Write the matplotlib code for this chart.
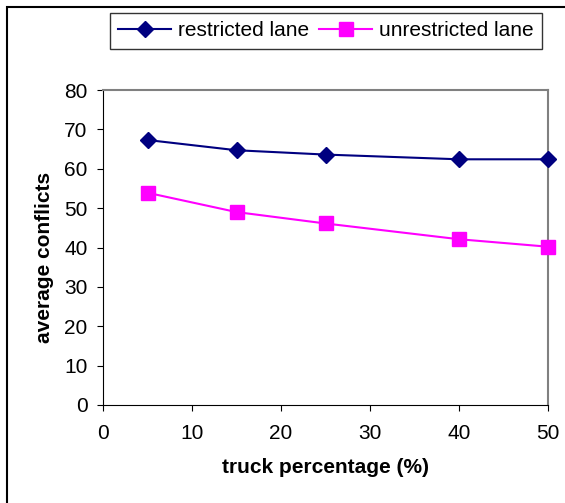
import matplotlib
matplotlib.use("Agg")
import matplotlib.pyplot as plt
from matplotlib.patches import Rectangle

plt.rcParams['font.family'] = ['Liberation Sans', 'DejaVu Sans']

truck_pct = [5, 15, 25, 40, 50]
restricted = [67.3, 64.7, 63.6, 62.4, 62.4]
unrestricted = [53.9, 49.0, 46.1, 42.1, 40.2]

fig = plt.figure(figsize=(5.65, 5.03), dpi=100)
W, H = 565, 503
ax = fig.add_axes([103 / W, (H - 405) / H, (548 - 103) / W, (405 - 90) / H])

ax.plot(truck_pct, restricted, color='#000080', marker='D', markersize=8,
        linewidth=1.5, label='restricted lane', clip_on=False, zorder=3)
ax.plot(truck_pct, unrestricted, color='#FF00FF', marker='s', markersize=10,
        linewidth=1.5, label='unrestricted lane', clip_on=False, zorder=3)

ax.set_xlim(0, 50)
ax.set_ylim(0, 80)
ax.set_xticks(range(0, 51, 10))
ax.set_yticks(range(0, 81, 10))
ax.tick_params(labelsize=15, direction='out', length=4, color='black')
ax.tick_params(axis='x', pad=9.5)
ax.tick_params(axis='y', pad=7)
for s in ['top', 'right']:
    ax.spines[s].set_color('#808080')
    ax.spines[s].set_linewidth(1.5)
for s in ['left', 'bottom']:
    ax.spines[s].set_color('black')

ax.set_xlabel('truck percentage (%)', fontsize=15, fontweight='bold', labelpad=11)
ax.set_ylabel('average conflicts', fontsize=15, fontweight='bold')
ax.yaxis.set_label_coords(-0.11, 0.467)

leg = fig.legend(loc='upper left', bbox_to_anchor=(110 / W, 1 - 13 / H), ncol=2,
                 fontsize=15, frameon=True, fancybox=False, edgecolor='black',
                 handlelength=2.55, columnspacing=0.5, handletextpad=0.3,
                 borderpad=0.4, borderaxespad=0)
leg.get_frame().set_linewidth(1.0)

fig.patches.append(Rectangle((7 / W, -0.1), 1.2, 1 - 7 / H + 0.1,
                             transform=fig.transFigure, fill=False,
                             edgecolor='black', linewidth=1.5))

fig.savefig('out.png', dpi=100)
